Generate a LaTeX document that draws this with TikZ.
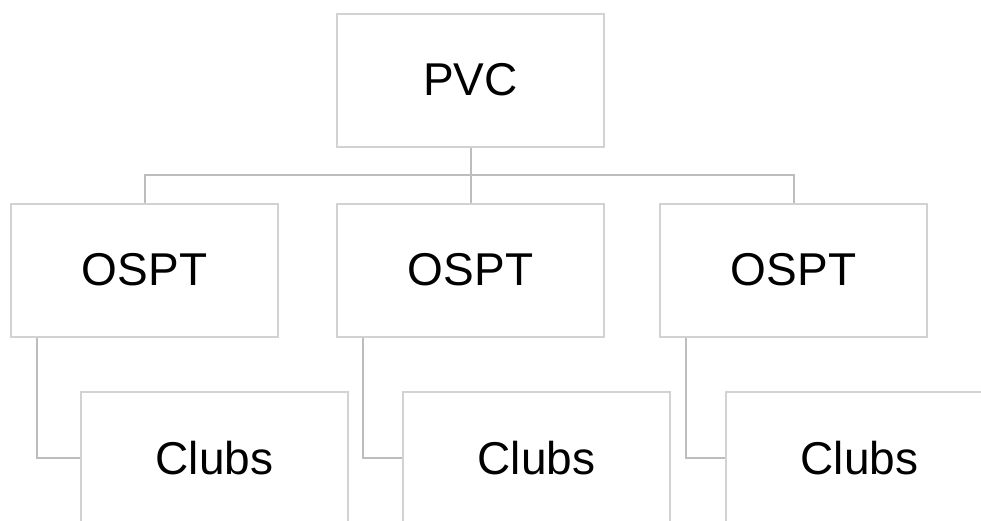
\documentclass[tikz,border=0pt]{standalone}
\usepackage{fontspec}
\setmainfont{Liberation Sans}
\begin{document}
\begin{tikzpicture}[x=1pt,y=-1pt,
  box/.style={draw=boxgray,line width=2pt,minimum width=267pt,minimum height=133pt,inner sep=0pt,fill=white,font=\fontsize{46}{46}\selectfont},
  link/.style={draw=linkgray,line width=2pt}]
\definecolor{boxgray}{HTML}{D2D2D2}
\definecolor{linkgray}{HTML}{BDBDBD}
\useasboundingbox (0,0) rectangle (981,520);
\clip (0,0) rectangle (981,520);
\node[box] (pvc) at (470.5,80) {PVC};
\node[box] (o1) at (144.5,270) {OSPT};
\node[box] (o2) at (470.5,270) {OSPT};
\node[box] (o3) at (793.5,270) {OSPT};
\draw[link] (pvc.south) -- (o2.north);
\draw[link] (o1.north) -- ++(0,-28) -| (o3.north);
\node[box] (c1) at (214.5,458) {Clubs};
\node[box] (c2) at (536.5,458) {Clubs};
\node[box] (c3) at (859.5,458) {Clubs};
\draw[link] ([xshift=27pt]o1.south west) |- (c1.west);
\draw[link] ([xshift=27pt]o2.south west) |- (c2.west);
\draw[link] ([xshift=27pt]o3.south west) |- (c3.west);
\end{tikzpicture}
\end{document}
